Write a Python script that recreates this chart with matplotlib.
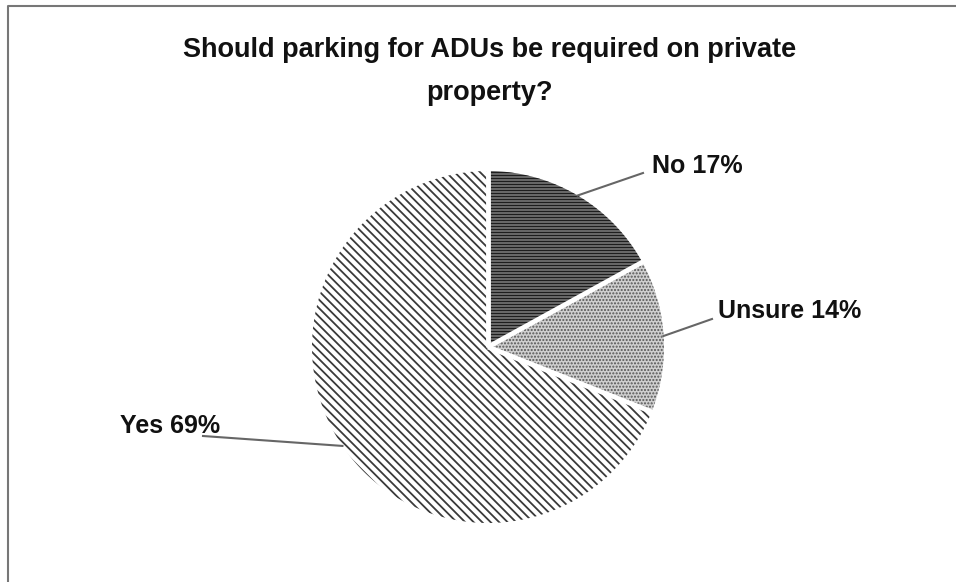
import numpy as np
import matplotlib
matplotlib.use('Agg')
import matplotlib.pyplot as plt
from matplotlib.collections import LineCollection
from matplotlib.patches import Polygon

title_lines = ['Should parking for ADUs be required on private', 'property?']
answers = ['No', 'Unsure', 'Yes']
shares = [17, 14, 69]

face = ['#7a7a7a', '#cfcfcf', 'white']
hatch_col = ['#1e1e1e', '#555555', '#3a3a3a']

# label anchor (x, baseline y) in pixel units, measured from the top-left
label_xy = [(652, 173), (718, 318), (220, 433)]
label_ha = ['left', 'left', 'right']
# where the leader line meets the label
leader_end = [(643, 173), (712, 319), (203, 436)]

plt.rcParams['font.family'] = ['Liberation Sans', 'DejaVu Sans']
plt.rcParams['hatch.linewidth'] = 1.0

W, H = 956, 582
fig = plt.figure(figsize=(W / 100, H / 100), dpi=100)
ax = fig.add_axes([0, 0, 1, 1])
ax.set_xlim(0, W)
ax.set_ylim(0, H)
ax.set_aspect('equal')
ax.axis('off')

cx, cy, r = 488, H - 347, 176

wedges, _ = ax.pie(shares, center=(cx, cy), radius=r, startangle=90,
                   counterclock=False, colors=face, frame=True,
                   wedgeprops=dict(linewidth=0))

# redraw each slice as a finely sampled polygon (smooth outline, good clip path)
slices = []
for w, fc in zip(wedges, face):
    t = np.deg2rad(np.linspace(w.theta1, w.theta2, 400))
    pts = np.column_stack([cx + r * np.cos(t), cy + r * np.sin(t)])
    pts = np.vstack([[cx, cy], pts])
    poly = Polygon(pts, closed=True, facecolor=fc, linewidth=0)
    ax.add_patch(poly)
    w.set_visible(False)
    slices.append(poly)


def stripes(patch, angle, step, color, lw):
    # parallel lines across the pie, clipped to one slice
    a = np.deg2rad(angle)
    d = np.array([np.cos(a), np.sin(a)])
    n = np.array([-d[1], d[0]])
    segs = []
    for off in np.arange(-r - step, r + step, step):
        p = np.array([cx, cy]) + n * off
        segs.append([p - d * (r + 10), p + d * (r + 10)])
    lc = LineCollection(segs, colors=color, linewidths=lw)
    ax.add_collection(lc)
    lc.set_clip_path(patch)


# No: dense horizontal lines on dark grey
stripes(slices[0], 0, 3.0, hatch_col[0], 1.0)
# Unsure: speckled light grey
slices[1].set_hatch('.....')
slices[1].set_edgecolor(hatch_col[1])
# Yes: fine diagonal lines on white
stripes(slices[2], -45, 6.0, hatch_col[2], 1.3)

# white gaps between slices, along each slice boundary
for w in wedges:
    t = np.deg2rad(w.theta1)
    ax.plot([cx, cx + (r + 2) * np.cos(t)], [cy, cy + (r + 2) * np.sin(t)],
            color='white', lw=3.5, solid_capstyle='butt')

for w, name, s, (lx, ly), ha, (ex2, ey2) in zip(wedges, answers, shares,
                                                label_xy, label_ha, leader_end):
    mid = np.deg2rad((w.theta1 + w.theta2) / 2)
    ex, ey = cx + r * np.cos(mid), cy + r * np.sin(mid)
    ax.plot([ex, ex2], [ey, H - ey2], color='#666666', lw=1.5)
    ax.text(lx, H - ly, f'{name} {s}%', ha=ha, va='baseline', fontsize=18,
            fontweight='bold', color='#111111')

for line, base in zip(title_lines, [57, 100]):
    ax.text(490, H - base, line, ha='center', va='baseline', fontsize=19.5,
            fontweight='bold', color='#111111')

# chart frame
ax.plot([8.5, 8.5, W], [0, H - 6, H - 6], color='#777777', lw=1.5)

ax.set_xlim(0, W)
ax.set_ylim(0, H)
fig.savefig('out.png', dpi=100)
